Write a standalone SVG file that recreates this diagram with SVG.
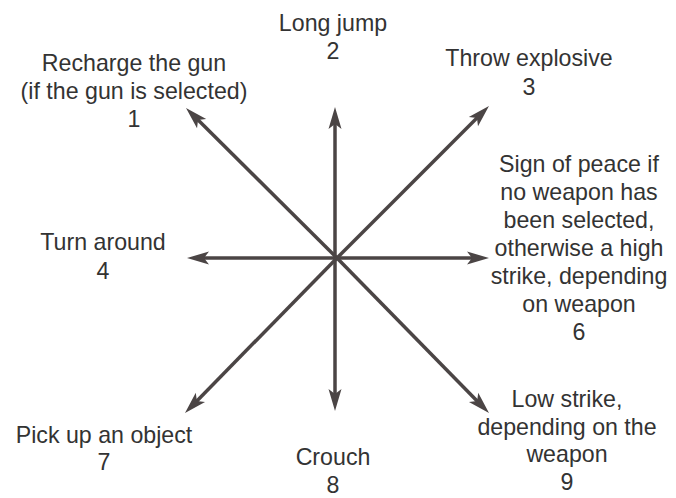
<svg xmlns="http://www.w3.org/2000/svg" width="676" height="498" viewBox="0 0 676 498">
<style>
.lbl{font-family:"Liberation Sans",Arial,sans-serif;font-size:23.2px;fill:#333;text-anchor:middle}
.ray{stroke:#4b4545;stroke-width:3.5;fill:none;marker-end:url(#ah)}
</style>
<defs>
<marker id="ah" markerUnits="userSpaceOnUse" markerWidth="30" markerHeight="20" refX="0" refY="0" orient="auto" overflow="visible">
<path d="M10,0 L-12,-6.5 L-7,0 L-12,6.5 Z" fill="#4b4545"/>
</marker>
</defs>
<rect width="676" height="498" fill="#ffffff"/>
<g id="connectors">
<line class="ray" x1="335" y1="258" x2="335" y2="117"/>
<line class="ray" x1="335" y1="258" x2="335" y2="401"/>
<line class="ray" x1="337" y1="258" x2="197" y2="258"/>
<line class="ray" x1="337" y1="258" x2="479" y2="258"/>
<line class="ray" x1="337" y1="258" x2="193.1" y2="115.1"/>
<line class="ray" x1="337" y1="258" x2="481.9" y2="113.1"/>
<line class="ray" x1="337" y1="258" x2="192" y2="405.9"/>
<line class="ray" x1="337" y1="258" x2="482" y2="405.9"/>
</g>
<g id="n1"><text class="lbl" x="134" y="71">Recharge the gun</text><text class="lbl" x="134" y="99">(if the gun is selected)</text><text class="lbl" x="134" y="127">1</text></g>
<g id="n2"><text class="lbl" x="333" y="31">Long jump</text><text class="lbl" x="333" y="59">2</text></g>
<g id="n3"><text class="lbl" x="529" y="66">Throw explosive</text><text class="lbl" x="529" y="95">3</text></g>
<g id="n4"><text class="lbl" x="103" y="250">Turn around</text><text class="lbl" x="103" y="279">4</text></g>
<g id="n6"><text class="lbl" x="579" y="172">Sign of peace if</text><text class="lbl" x="579" y="200">no weapon has</text><text class="lbl" x="579" y="228">been selected,</text><text class="lbl" x="579" y="256">otherwise a high</text><text class="lbl" x="579" y="284">strike, depending</text><text class="lbl" x="579" y="312">on weapon</text><text class="lbl" x="579" y="340">6</text></g>
<g id="n7"><text class="lbl" x="104" y="443">Pick up an object</text><text class="lbl" x="104" y="470">7</text></g>
<g id="n8"><text class="lbl" x="333" y="465">Crouch</text><text class="lbl" x="333" y="493">8</text></g>
<g id="n9"><text class="lbl" x="567" y="407">Low strike,</text><text class="lbl" x="567" y="435">depending on the</text><text class="lbl" x="567" y="462">weapon</text><text class="lbl" x="567" y="490">9</text></g>
</svg>
